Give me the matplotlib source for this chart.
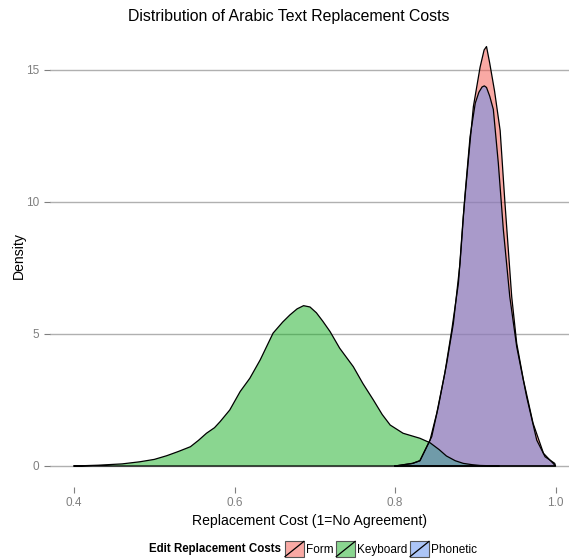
import matplotlib
matplotlib.use("Agg")
import matplotlib.pyplot as plt
from matplotlib.patches import Patch, Rectangle
from matplotlib.lines import Line2D
from matplotlib.legend_handler import HandlerPatch

plt.rcParams['font.family'] = ['Liberation Sans', 'DejaVu Sans']

# density curves
x_keyboard = [0.40, 0.43, 0.46, 0.482, 0.50, 0.5155, 0.53, 0.545, 0.555, 0.565,
              0.575, 0.582, 0.594, 0.607, 0.619, 0.632, 0.648, 0.660, 0.669, 0.678,
              0.686, 0.694, 0.702, 0.710, 0.719, 0.731, 0.748, 0.760, 0.773, 0.784,
              0.794, 0.810, 0.831, 0.8436, 0.855, 0.864, 0.875, 0.885, 0.896, 0.906,
              0.93]
d_keyboard = [0.0, 0.03, 0.08, 0.16, 0.25, 0.39, 0.55, 0.73, 0.97, 1.24,
              1.45, 1.68, 2.12, 2.82, 3.32, 4.02, 5.03, 5.45, 5.72, 5.95,
              6.07, 6.02, 5.8, 5.48, 5.09, 4.46, 3.76, 3.12, 2.5, 1.95,
              1.55, 1.24, 1.05, 0.88, 0.62, 0.38, 0.2, 0.1, 0.05, 0.02,
              0.0]

x_form = [0.80, 0.822, 0.831, 0.8436, 0.852, 0.862, 0.8707, 0.879, 0.885, 0.891,
          0.8976, 0.906, 0.911, 0.914, 0.918, 0.924, 0.931, 0.937, 0.9454, 0.9516,
          0.960, 0.972, 0.985, 0.997, 1.0]
d_form = [0.0, 0.1, 0.2, 0.98, 2.0, 3.51, 5.15, 6.92, 9.44, 11.47,
          13.6, 15.1, 15.75, 15.88, 15.25, 14.2, 12.7, 9.95, 6.41, 4.65,
          3.26, 1.62, 0.48, 0.1, 0.0]

x_phonetic = [0.80, 0.822, 0.831, 0.8457, 0.854, 0.8644, 0.8727, 0.881, 0.887, 0.8935,
              0.90, 0.9045, 0.9085, 0.9113, 0.914, 0.918, 0.9225, 0.9287, 0.935, 0.943,
              0.9516, 0.964, 0.9766, 0.987, 0.999, 1.0]
d_phonetic = [0.0, 0.1, 0.2, 1.11, 2.25, 3.89, 5.4, 7.68, 10.2, 12.47,
              13.74, 14.15, 14.35, 14.39, 14.33, 14.0, 13.5, 11.47, 8.94, 6.41,
              4.52, 2.62, 0.98, 0.35, 0.1, 0.0]

labels = ['Form', 'Keyboard', 'Phonetic']
colors = ['#F4554B', '#17AF23', '#5A8CF0']


class SlashHandler(HandlerPatch):
    def create_artists(self, legend, orig_handle, xdescent, ydescent,
                       width, height, fontsize, trans):
        r = Rectangle((-xdescent, -ydescent), width, height,
                      facecolor=orig_handle.get_facecolor(),
                      edgecolor='#555555', lw=0.8, transform=trans)
        l = Line2D([-xdescent, -xdescent + width], [-ydescent, -ydescent + height],
                   color='black', lw=0.9, transform=trans)
        return [r, l]


fig = plt.figure(figsize=(5.69, 5.60), dpi=100)
ax = fig.add_axes([50 / 569, 73 / 560, 519 / 569, 462 / 560])

series = [(x_form, d_form), (x_keyboard, d_keyboard), (x_phonetic, d_phonetic)]
for (xs, ds), c in zip(series, colors):
    ax.fill_between(xs, 0, ds, facecolor=c, alpha=0.5, edgecolor='none')
    ax.plot(list(xs) + [xs[0]], list(ds) + [0], color='black', lw=0.9)

ax.set_xlim(0.370, 1.0168)
ax.set_ylim(-0.795, 16.695)
ax.set_xticks([0.4, 0.6, 0.8, 1.0])
ax.set_xticklabels(['0.4', '0.6', '0.8', '1.0'])
ax.set_yticks([0, 5, 10, 15])
ax.grid(axis='y', color='#b0b0b0', lw=1)
ax.set_axisbelow(True)
for s in ax.spines.values():
    s.set_visible(False)
ax.tick_params(colors='#7f7f7f', labelsize=8.5, length=4, width=0.8)
ax.tick_params(axis='x', pad=3)

ax.set_xlabel('Replacement Cost (1=No Agreement)', fontsize=10.1, labelpad=4)
ax.set_ylabel('Density', fontsize=10.1, labelpad=0)
fig.text(289 / 569, 1 - 17 / 560, 'Distribution of Arabic Text Replacement Costs',
         ha='center', va='center', fontsize=11.4)

handles = [Patch(facecolor=matplotlib.colors.to_rgba(c, 0.5)) for c in colors]
fig.text(281 / 569, 1 - 549 / 560, 'Edit Replacement Costs', ha='right', va='center',
         fontsize=8.3, fontweight='bold')
fig.legend(handles, labels, loc='center left', bbox_to_anchor=(285 / 569, 1 - 549 / 560),
           ncol=3, frameon=False, fontsize=8.5, handler_map={Patch: SlashHandler()},
           handlelength=1.6, handleheight=1.6, handletextpad=0.2, columnspacing=0.2,
           borderpad=0, borderaxespad=0)

fig.savefig('out.png', dpi=100)
